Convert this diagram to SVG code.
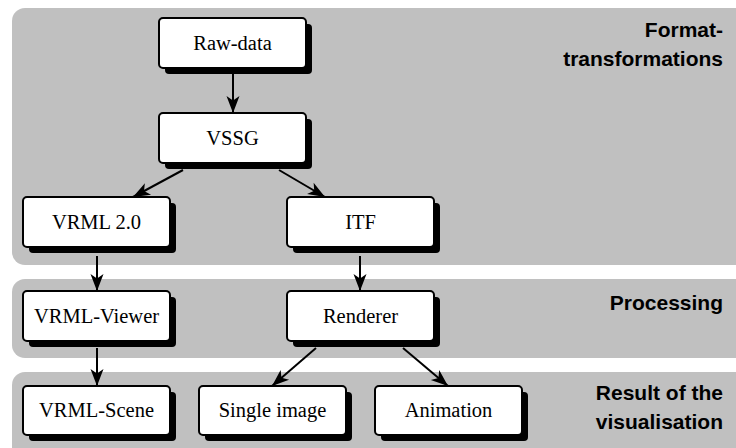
<svg xmlns="http://www.w3.org/2000/svg" width="736" height="448" viewBox="0 0 736 448">
  <defs>
    <marker id="head" markerUnits="userSpaceOnUse" markerWidth="18" markerHeight="13" refX="17" refY="6.5" orient="auto" overflow="visible">
      <path d="M0,0 L17,6.5 L0,13 L4.5,6.5 Z" fill="#000"/>
    </marker>
  </defs>
  <style>
    .band { fill: #c0c0c0; }
    .shadow { fill: #000; }
    .box { fill: #fff; stroke: #000; stroke-width: 2; }
    .edge { stroke: #000; stroke-width: 2; fill: none; marker-end: url(#head); }
  </style>
  <rect width="736" height="448" fill="#fff"/>

  <!-- stage bands -->
  <g id="bands">
    <rect class="band" x="12" y="8" width="760" height="257" rx="13"/>
    <rect class="band" x="12" y="279" width="760" height="79" rx="13"/>
    <rect class="band" x="12" y="372" width="760" height="100" rx="13"/>
    <g font-family="Liberation Sans, Arial, sans-serif" font-weight="bold" font-size="21" text-anchor="end" fill="#000">
      <text x="723" y="37">Format-</text>
      <text x="723" y="66">transformations</text>
      <text x="723" y="310">Processing</text>
      <text x="723" y="400">Result of the</text>
      <text x="723" y="429">visualisation</text>
    </g>
  </g>

  <!-- connectors -->
  <g id="connectors">
    <line class="edge" x1="233" y1="74" x2="233" y2="113"/>
    <line class="edge" x1="183" y1="170" x2="133" y2="197"/>
    <line class="edge" x1="279" y1="170" x2="325" y2="197"/>
    <line class="edge" x1="97" y1="256" x2="97" y2="291"/>
    <line class="edge" x1="360" y1="256" x2="360" y2="291"/>
    <line class="edge" x1="97" y1="348" x2="97" y2="386"/>
    <line class="edge" x1="316" y1="348" x2="272" y2="386"/>
    <line class="edge" x1="403" y1="348" x2="448" y2="386"/>
  </g>

  <!-- nodes -->
  <g font-family="Liberation Serif, Times New Roman, serif" font-size="20.5" text-anchor="middle" fill="#000">
    <g id="raw-data">
      <rect class="shadow" x="165" y="24" width="147" height="50" rx="4"/>
      <rect class="box" x="159" y="18" width="147" height="50" rx="4"/>
      <text x="232.5" y="50">Raw-data</text>
    </g>
    <g id="vssg">
      <rect class="shadow" x="165" y="119" width="147" height="50" rx="4"/>
      <rect class="box" x="159" y="113" width="147" height="50" rx="4"/>
      <text x="232.5" y="145">VSSG</text>
    </g>
    <g id="vrml20">
      <rect class="shadow" x="29" y="203" width="147" height="50" rx="4"/>
      <rect class="box" x="23" y="197" width="147" height="50" rx="4"/>
      <text x="96.5" y="229">VRML 2.0</text>
    </g>
    <g id="itf">
      <rect class="shadow" x="293" y="203" width="147" height="50" rx="4"/>
      <rect class="box" x="287" y="197" width="147" height="50" rx="4"/>
      <text x="360.5" y="229">ITF</text>
    </g>
    <g id="vrml-viewer">
      <rect class="shadow" x="29" y="297" width="147" height="50" rx="4"/>
      <rect class="box" x="23" y="291" width="147" height="50" rx="4"/>
      <text x="96.5" y="323">VRML-Viewer</text>
    </g>
    <g id="renderer">
      <rect class="shadow" x="293" y="297" width="147" height="50" rx="4"/>
      <rect class="box" x="287" y="291" width="147" height="50" rx="4"/>
      <text x="360.5" y="323">Renderer</text>
    </g>
    <g id="vrml-scene">
      <rect class="shadow" x="29" y="392" width="147" height="49" rx="4"/>
      <rect class="box" x="23" y="386" width="147" height="49" rx="4"/>
      <text x="96.5" y="417">VRML-Scene</text>
    </g>
    <g id="single-image">
      <rect class="shadow" x="205" y="392" width="147" height="49" rx="4"/>
      <rect class="box" x="199" y="386" width="147" height="49" rx="4"/>
      <text x="272.5" y="417">Single image</text>
    </g>
    <g id="animation">
      <rect class="shadow" x="381" y="392" width="147" height="49" rx="4"/>
      <rect class="box" x="375" y="386" width="147" height="49" rx="4"/>
      <text x="448.5" y="417">Animation</text>
    </g>
  </g>
</svg>
